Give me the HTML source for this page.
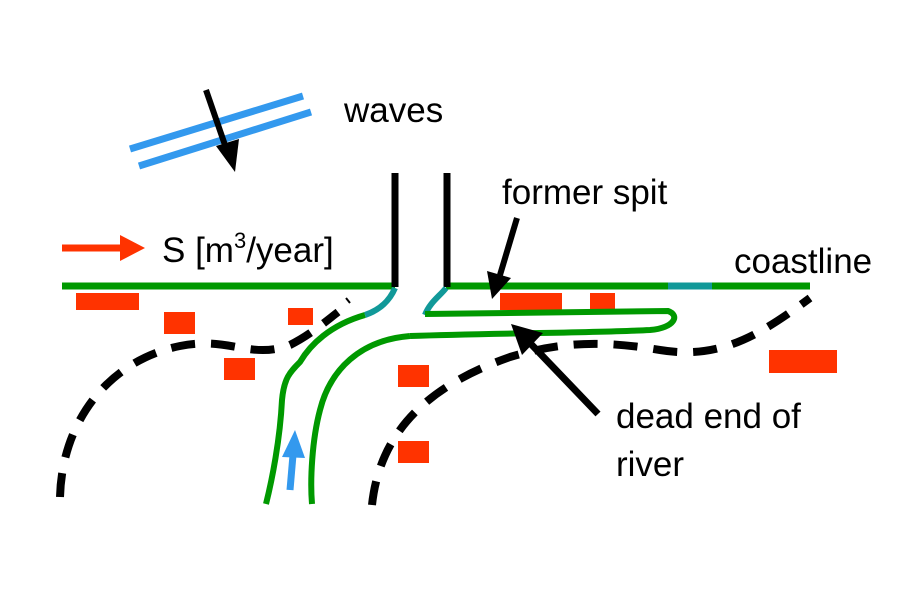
<!DOCTYPE html>
<html><head><meta charset="utf-8"><style>
html,body{margin:0;padding:0;background:#fff;}
svg{display:block;}
text{font-family:"Liberation Sans",Arial,sans-serif;font-size:35px;fill:#000;}
</style></head><body>
<svg width="909" height="590" viewBox="0 0 909 590" xmlns="http://www.w3.org/2000/svg">
<rect width="909" height="590" fill="#fff"/>
<line x1="130" y1="149" x2="303" y2="96" stroke="#3399ee" stroke-width="7"/>
<line x1="139" y1="166" x2="311" y2="112" stroke="#3399ee" stroke-width="7"/>
<line x1="206" y1="90" x2="226" y2="148" stroke="#000" stroke-width="6"/>
<polygon points="216,146 239,139 235,172" fill="#000"/>
<text x="344" y="122">waves</text>
<line x1="62" y1="248" x2="122" y2="248" stroke="#ff3300" stroke-width="7"/>
<polygon points="120,235 145,248 120,261" fill="#ff3300"/>
<text x="162" y="262">S [m<tspan font-size="22" dy="-14">3</tspan><tspan dy="14">/year]</tspan></text>
<line x1="62" y1="286" x2="395" y2="286" stroke="#009900" stroke-width="7"/>
<line x1="446" y1="286" x2="668" y2="286" stroke="#009900" stroke-width="7"/>
<line x1="668" y1="286" x2="712" y2="286" stroke="#119999" stroke-width="7"/>
<line x1="712" y1="286" x2="810" y2="286" stroke="#009900" stroke-width="7"/>
<text x="734" y="273">coastline</text>
<line x1="395" y1="173" x2="395" y2="287" stroke="#000" stroke-width="7"/>
<line x1="447" y1="173" x2="447" y2="287" stroke="#000" stroke-width="7"/>
<g fill="#ff3300">
<rect x="76" y="293" width="63" height="17"/>
<rect x="164" y="312" width="31" height="22"/>
<rect x="288" y="308" width="25" height="17"/>
<rect x="224" y="358" width="31" height="22"/>
<rect x="398" y="365" width="31" height="22"/>
<rect x="398" y="441" width="31" height="22"/>
<rect x="500" y="293" width="62" height="17"/>
<rect x="590" y="293" width="25" height="17"/>
<rect x="769" y="350" width="68" height="23"/>
</g>
<g fill="none" stroke="#000" stroke-width="8" stroke-dasharray="24,16">
<path d="M60,497 C62,420 110,360 180,346 C230,336 250,360 290,345 C310,335 325,322 338,312"/>
<path d="M372,505 C380,430 430,385 510,357 C560,342 600,340 660,350 C720,360 760,335 810,298"/>
</g>
<line x1="346" y1="298" x2="350" y2="303" stroke="#000" stroke-width="2"/>
<path d="M395,288 C390,300 380,310 365,315" fill="none" stroke="#119999" stroke-width="6"/>
<path d="M446,288 C440,296 430,302 425,315" fill="none" stroke="#119999" stroke-width="6"/>
<g fill="none" stroke="#009900" stroke-width="6">
<path d="M365,315 C330,325 310,345 300,362 C290,372 284,378 282,400 C280,440 272,480 266,504"/>
<path d="M410,336 C360,340 330,370 320,410 C312,440 310,480 312,504"/>
<path d="M425,314 L668,311 C680,315 675,328 650,330 C590,333 500,333 410,336"/>
</g>
<line x1="290" y1="490" x2="293" y2="455" stroke="#3399ee" stroke-width="7"/>
<polygon points="282,457 295,430 305,458" fill="#3399ee"/>
<text x="502" y="204">former spit</text>
<line x1="517" y1="218" x2="500" y2="275" stroke="#000" stroke-width="6"/>
<polygon points="487,271 511,278 492,299" fill="#000"/>
<line x1="598" y1="414" x2="530" y2="343" stroke="#000" stroke-width="7"/>
<polygon points="511,324 543,333 522,355" fill="#000"/>
<text x="616" y="428">dead end of</text>
<text x="616" y="476">river</text>
</svg>
</body></html>
